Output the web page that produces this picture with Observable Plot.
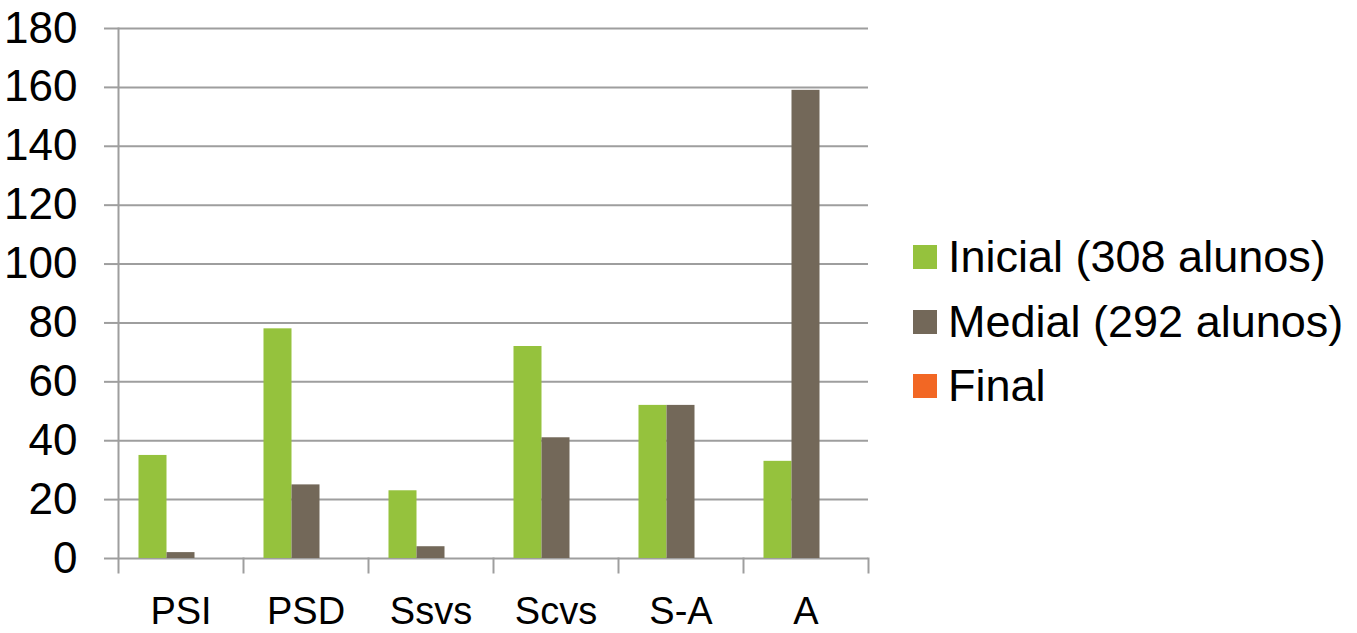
<!DOCTYPE html>
<html>
<head>
<meta charset="utf-8">
<script src="https://cdn.jsdelivr.net/npm/d3@7"></script>
<script src="https://cdn.jsdelivr.net/npm/@observablehq/plot@0.6"></script>
<style>
  html, body { margin: 0; padding: 0; background: #fff; }
  #wrap { position: relative; width: 1357px; height: 633px; font-family: "Liberation Sans", Arial, sans-serif; }
  #legend { position: absolute; left: 913px; top: 225px; }
  .row { position: absolute; left: 0; display: flex; align-items: center; white-space: nowrap; font-size: 45px; color: #000; height: 64px; }
  .sw { width: 24px; height: 24px; margin-right: 11px; flex: none; }
</style>
</head>
<body>
<div id="wrap"><div id="legend"></div></div>
<script>
const categories = ["PSI", "PSD", "Ssvs", "Scvs", "S-A", "A"];
const series = ["Inicial (308 alunos)", "Medial (292 alunos)", "Final"];
const inicial = [35, 78, 23, 72, 52, 33];
const medial = [2, 25, 4, 41, 52, 159];
const final = [null, null, null, null, null, null];
const colors = ["#95C23D", "#736859", "#F26724"];
const yTicks = [0, 20, 40, 60, 80, 100, 120, 140, 160, 180];

const values = [inicial, medial, final];
const data = [];
categories.forEach((c, i) => {
  series.forEach((s, j) => {
    if (values[j][i] != null) data.push({category: c, series: s, value: values[j][i]});
  });
});

const W = 1357, H = 633, mL = 118, mR = 489, mT = 28, mB = 75;
const gridColor = "#9e9e9e";

const chart = Plot.plot({
  width: W, height: H,
  marginLeft: mL, marginRight: mR, marginTop: mT, marginBottom: mB,
  style: {fontFamily: "'Liberation Sans', Arial, sans-serif", fontSize: "44px", color: "#000", background: "transparent", overflow: "visible"},
  fx: {domain: categories, padding: 0, label: null, round: false},
  x: {domain: series, paddingInner: 0, paddingOuter: 0.732, axis: null, round: false},
  y: {domain: [0, 180], label: null},
  color: {domain: series, range: colors},
  marks: [
    Plot.gridY(yTicks, {stroke: gridColor, strokeOpacity: 1, strokeWidth: 2}),
    Plot.axisY(yTicks, {tickSize: 14, tickPadding: 27, stroke: gridColor, strokeWidth: 2, fontSize: 44, label: null}),
    Plot.axisFx({tickSize: 0, tickPadding: 39, fontSize: 38, label: null, anchor: "bottom"}),
    Plot.frame({anchor: "left", facetAnchor: "left", stroke: gridColor, strokeWidth: 2, insetBottom: -14}),
    Plot.frame({anchor: "right", stroke: gridColor, strokeWidth: 2, insetTop: H - mT - mB, insetBottom: -14}),
    Plot.barY(data, {fx: "category", x: "series", y: "value", fill: "series"})
  ]
});
document.getElementById("wrap").prepend(chart);

const legend = document.getElementById("legend");
series.forEach((s, i) => {
  const row = document.createElement("div");
  row.className = "row";
  row.style.top = (i * 64.5) + "px";
  const sw = document.createElement("div");
  sw.className = "sw";
  sw.style.background = colors[i];
  const t = document.createElement("span");
  t.textContent = s;
  row.appendChild(sw);
  row.appendChild(t);
  legend.appendChild(row);
});
</script>
</body>
</html>
